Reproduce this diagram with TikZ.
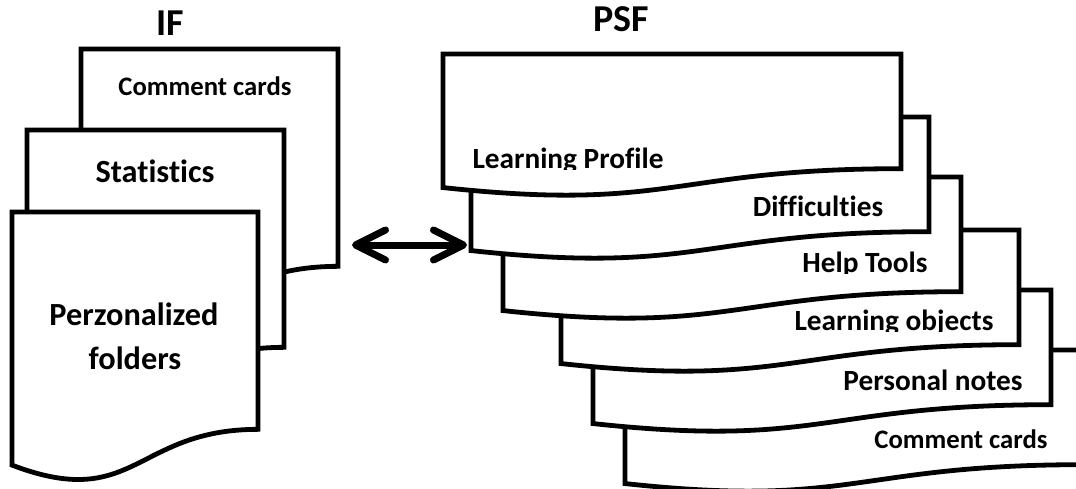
\documentclass[tikz,border=0pt]{standalone}
\usepackage{fontspec}
\setmainfont{Carlito}[Ligatures={NoCommon}]
\usetikzlibrary{arrows.meta}

% Flowchart "document" sheet: top-left corner (#1,#2), width #3, height #4
\newcommand\docsheet[4]{%
  \path[sheet] (#1,#2) -- ({#1+#3},#2) -- ({#1+#3},{#2+0.802*#4})
    .. controls ({#1+0.5*#3},{#2+0.802*#4}) and ({#1+0.5*#3},{#2+1.107*#4})
    .. (#1,{#2+0.934*#4}) -- cycle;}

\begin{document}
\begin{tikzpicture}[x=1pt,y=-1pt,
  sheet/.style={draw=black, fill=white, line width=4.8pt, line join=miter},
  lbl/.style={font=\bfseries\fontsize{26.7}{30}\selectfont, inner sep=0pt, anchor=base},
  midlbl/.style={lbl, font=\bfseries\fontsize{29.3}{34}\selectfont},
  biglbl/.style={lbl, font=\bfseries\fontsize{32.3}{37}\selectfont},
  ttl/.style={lbl, font=\bfseries\fontsize{38}{42}\selectfont},
  barb/.tip={Straight Barb[length=30pt,width=30pt,round]},
  link/.style={line width=7pt, barb-barb}
]
\useasboundingbox (0,0) rectangle (1076,489);

% ---- IF stack ----
\node[ttl] (if) at (170,36) {IF};
\docsheet{81}{49}{257}{271}
\node[lbl] (ifcc) at (205,96) {Comment cards};
\docsheet{27}{130}{257}{271}
\node[biglbl] (ifst) at (155,183) {Statistics};
\docsheet{12}{212}{246}{271}
\node[biglbl] (ifpf) at (134,325) {Perzonalized};
\node[biglbl] (ifpf2) at (135,369) {folders};

% ---- PSF stack (back to front) ----
\node[ttl] (psf) at (621,32) {PSF};
\docsheet{625}{350}{458}{143}
\node[lbl] (pcc) at (961,448) {Comment cards};
\docsheet{593}{290}{458}{143}
\node[midlbl] (ppn) at (933,390) {Personal notes};
\docsheet{561}{230}{458}{143}
\begin{scope}
  \clip (700,290) rectangle (1010,331);
  \node[midlbl] (plo) at (894,330) {Learning objects};
\end{scope}
\docsheet{503}{177}{458}{143}
\begin{scope}
  \clip (700,240) rectangle (955,273);
  \node[midlbl] (pht) at (865,272) {Help Tools};
\end{scope}
\docsheet{471}{117}{458}{143}
\node[midlbl] (pdf) at (818,217) {Difficulties};
\docsheet{443}{54}{458}{143}
\begin{scope}
  \clip (450,130) rectangle (890,170);
  \node[midlbl] (plp) at (568,169) {Learning Profile};
\end{scope}

% ---- link between the two stacks ----
\coordinate (ifside) at (352,245);
\coordinate (psfside) at (467,245);
\draw[link] (ifside) -- (psfside);
\end{tikzpicture}
\end{document}
